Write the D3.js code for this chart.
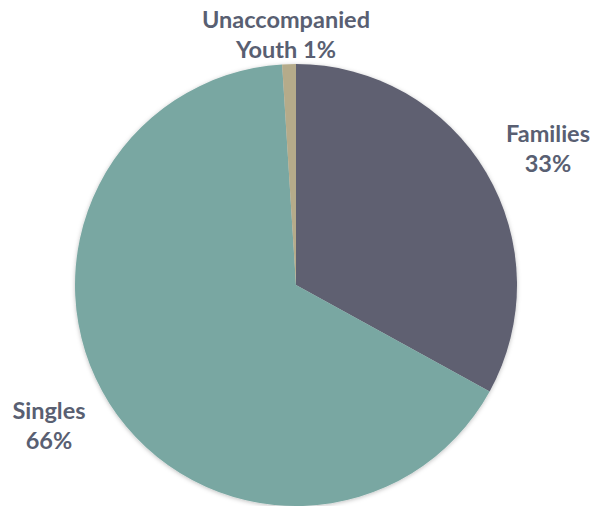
<!DOCTYPE html>
<html><head><meta charset="utf-8">
<script src="https://cdn.jsdelivr.net/npm/d3@7"></script>
<style>body{margin:0;background:#fff;} svg{display:block;}</style>
</head><body>
<svg id="c" width="596" height="506"></svg>
<script>
const categories = ["Families", "Singles", "Unaccompanied Youth"];
const values = [33, 66, 1];
const labelLines = [["Families", "33%"], ["Singles", "66%"], ["Unaccompanied", "Youth 1%"]];
const colors = ["#5f6071", "#79a7a2", "#b5ab8a"];

const svg = d3.select("#c");
const cx = 296, cy = 285, r = 221;
const defs = svg.append("defs");
const f = defs.append("filter").attr("id","sh").attr("x","-10%").attr("y","-10%").attr("width","120%").attr("height","120%");
f.append("feDropShadow").attr("dx",0).attr("dy",1).attr("stdDeviation",2).attr("flood-color","#000").attr("flood-opacity",0.25);

const pie = d3.pie().sort(null).value(d => d)(values);
const arc = d3.arc().innerRadius(0).outerRadius(r);
const g = svg.append("g").attr("transform", `translate(${cx},${cy})`).attr("filter","url(#sh)");
g.selectAll("path").data(pie).join("path")
  .attr("d", arc).attr("fill", (d,i) => colors[i]);

const labelPos = [[548, 142], [49, 419], [286, 28]];
const lg = svg.append("g").attr("font-family","Lato, 'Open Sans', sans-serif").attr("font-weight","bold")
  .attr("font-size", 23.5).attr("fill","#595f72").attr("text-anchor","middle");
labelLines.forEach((lines, i) => {
  const t = lg.append("text").attr("x", labelPos[i][0]).attr("y", labelPos[i][1]);
  lines.forEach((l, j) => t.append("tspan").attr("x", labelPos[i][0]).attr("dy", j === 0 ? 0 : 30).text(l));
});
</script>
</body></html>
